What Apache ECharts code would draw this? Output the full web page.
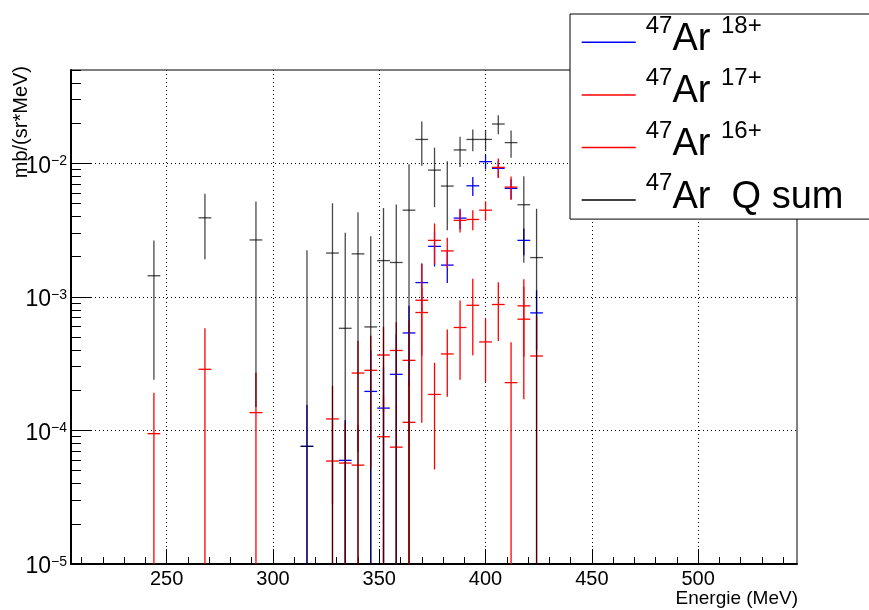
<!DOCTYPE html>
<html>
<head>
<meta charset="utf-8">
<script src="https://cdn.jsdelivr.net/npm/echarts@6/dist/echarts.min.js"></script>
<style>html,body{margin:0;padding:0;background:#fff}#c{width:869px;height:610px}</style>
</head>
<body>
<div id="c"></div>
<script>
// ---- data ----
const energy = [244,268,292,316,328,334,340,346,352,358,364,370,376,382,388,394,400,406,412,418,424];

const qsum    = [1.44e-3,3.91e-3,2.67e-3,7.6e-5,2.13e-3,5.82e-4,2.1e-3,5.96e-4,1.87e-3,1.81e-3,4.46e-3,1.51e-2,8.9e-3,6.76e-3,1.26e-2,1.51e-2,1.51e-2,1.97e-2,1.43e-2,4.9e-3,1.97e-3];
const qsumErr = [1.2e-3,2.0e-3,2.52e-3,2.16e-3,2.9e-3,2.44e-3,2.2e-3,2.25e-3,2.77e-3,3.1e-3,5.4e-3,5.5e-3,4.2e-3,3.6e-3,3.2e-3,2.8e-3,2.7e-3,3.2e-3,3.3e-3,3.1e-3,2.6e-3];

const ar18    = [null,null,null,7.6e-5,null,5.97e-5,null,1.96e-4,1.47e-4,2.63e-4,5.37e-4,1.28e-3,2.39e-3,1.73e-3,3.89e-3,6.79e-3,1.03e-2,9.18e-3,6.5e-3,2.65e-3,7.59e-4];
const ar18Err = [null,null,null,7.9e-5,null,6e-5,null,2e-4,1.5e-4,2.6e-4,3.2e-4,5e-4,7e-4,4.6e-4,6.8e-4,1.1e-3,1.3e-3,1.3e-3,1.1e-3,6e-4,3.6e-4];

const ar17    = [9.46e-5,2.87e-4,1.36e-4,null,1.22e-4,5.7e-5,2.69e-4,2.82e-4,3.67e-4,3.97e-4,3.35e-4,9.44e-4,2.65e-3,2.21e-3,3.74e-3,3.8e-3,4.46e-3,9.33e-3,6.64e-3,8.57e-4,3.61e-4];
const ar17Err = [9.7e-5,2.95e-4,1.35e-4,null,9.4e-5,5.7e-5,2.0e-4,2.3e-4,2.3e-4,2.5e-4,3.3e-4,8.3e-4,9e-4,5.6e-4,7e-4,6.5e-4,7.4e-4,1.55e-3,1.33e-3,5e-4,3.6e-4];

const ar16    = [null,null,null,null,5.9e-5,null,5.5e-5,null,8.97e-5,7.5e-5,1.15e-4,7.64e-4,1.86e-4,3.74e-4,5.9e-4,8.65e-4,4.6e-4,8.77e-4,2.28e-4,6.81e-4,null];
const ar16Err = [null,null,null,null,6e-5,null,5.5e-5,null,9e-5,7.5e-5,1.15e-4,4e-4,1.35e-4,1.95e-4,3.5e-4,5e-4,2.3e-4,4.1e-4,2.3e-4,5.1e-4,null];

const binHalfWidth = 3;
const xMin = 205, xMax = 546.5;
const yMin = 1e-5, yMax = 0.05;
const xTickLabels = [250,300,350,400,450,500];
const xMinorTicks = [];
for (let v = 210; v <= 540; v += 10) xMinorTicks.push(v);
const yTickLabels = [1e-5,1e-4,1e-3,1e-2];
const yMinorTicks = [];
for (let p = -5; p <= -2; p++) for (let m = 2; m <= 9; m++) { const v = m * Math.pow(10, p); if (v <= yMax) yMinorTicks.push(+v.toPrecision(3)); }

const FONT = '"Liberation Sans", Arial, Helvetica, sans-serif';

function makeSeries(name, vals, errs, color, opacity) {
  const data = [];
  energy.forEach((e, i) => { if (vals[i] != null) data.push([e, vals[i], errs[i]]); });
  return {
    name: name, type: 'custom', xAxisIndex: 0, yAxisIndex: 0,
    itemStyle: { color: color },
    encode: { x: 0, y: 1 },
    data: data,
    renderItem: function (params, api) {
      const x = api.value(0), v = api.value(1), er = api.value(2);
      const lo = Math.max(v - er, yMin);
      const hi = Math.min(v + er, yMax);
      const pc = api.coord([x, v]);
      const plo = api.coord([x, lo]);
      const phi = api.coord([x, hi]);
      const pl = api.coord([x - binHalfWidth, v]);
      const pr = api.coord([x + binHalfWidth, v]);
      const st = { stroke: color, lineWidth: 1.3, opacity: opacity };
      return { type: 'group', children: [
        { type: 'line', shape: { x1: pc[0], y1: plo[1], x2: pc[0], y2: phi[1] }, style: st },
        { type: 'line', shape: { x1: pl[0], y1: pc[1], x2: pr[0], y2: pc[1] }, style: st }
      ]};
    }
  };
}

const chart = echarts.init(document.getElementById('c'), null, { renderer: 'canvas' });
chart.setOption({
  animation: false,
  backgroundColor: '#fff',
  grid: { left: 71, right: 72, top: 70, bottom: 46, containLabel: false, outerBoundsMode: 'none',
          show: true, borderColor: '#000', borderWidth: 1, backgroundColor: '#fff' },
  xAxis: [
    { type: 'value', min: xMin, max: xMax, position: 'bottom',
      axisLine: { show: true, onZero: false, lineStyle: { color: '#000', width: 2 } },
      axisTick: { show: true, inside: true, length: 15, customValues: xTickLabels, lineStyle: { color: '#000', width: 1 } },
      axisLabel: { show: true, customValues: xTickLabels, fontSize: 20, fontFamily: FONT, color: '#000', margin: 5 },
      splitLine: { show: true, lineStyle: { type: [1, 3], color: '#000', width: 1 } }
    },
    { type: 'value', min: xMin, max: xMax, position: 'bottom', offset: 0,
      axisLine: { show: false },
      axisTick: { show: true, inside: true, length: 7, customValues: xMinorTicks, lineStyle: { color: '#000', width: 1 } },
      axisLabel: { show: false },
      splitLine: { show: false }
    }
  ],
  yAxis: [
    { type: 'log', logBase: 10, min: yMin, max: yMax, position: 'left',
      axisLine: { show: true, onZero: false, lineStyle: { color: '#000', width: 2 } },
      axisTick: { show: true, inside: true, length: 20, customValues: yTickLabels, lineStyle: { color: '#000', width: 1 } },
      axisLabel: { show: true, customValues: yTickLabels, margin: 4, color: '#000',
        formatter: function (v) {
          const p = Math.round(Math.log10(v));
          return '{b|10}{s|' + (p < 0 ? '\u2212' : '') + Math.abs(p) + '}';
        },
        rich: {
          b: { fontSize: 23, lineHeight: 23, fontFamily: FONT, color: '#000', padding: [6, 0, 0, 0] },
          s: { fontSize: 14, lineHeight: 14, fontFamily: FONT, color: '#000', padding: [0, 0, 4, 0] }
        }
      },
      splitLine: { show: true, lineStyle: { type: [1, 3], color: '#000', width: 1 } }
    },
    { type: 'log', logBase: 10, min: yMin, max: yMax, position: 'left', offset: 0,
      axisLine: { show: false },
      axisTick: { show: true, inside: true, length: 10, customValues: yMinorTicks, lineStyle: { color: '#000', width: 1 } },
      axisLabel: { show: false },
      splitLine: { show: false }
    }
  ],
  legend: {
    orient: 'vertical', left: 570, top: 14,
    data: ['18+', '17+', '16+', 'Q sum'],
    icon: 'rect', itemWidth: 54, itemHeight: 1.5, itemGap: 8.3,
    padding: [0, 70, 3, 11.7],
    backgroundColor: '#fff', borderColor: '#000', borderWidth: 1, borderRadius: 0,
    selectedMode: false,
    formatter: function (name) {
      if (name === 'Q sum') return '{sup|47}{main|Ar  Q sum}';
      return '{sup|47}{main|Ar }{sup2|' + name + '}';
    },
    textStyle: {
      color: '#000', fontFamily: FONT,
      rich: {
        sup: { fontSize: 24, lineHeight: 8, height: 7.4, verticalAlign: 'top', fontFamily: FONT, color: '#000', padding: [0, 0, 0, 5] },
        main: { fontSize: 38, lineHeight: 40, height: 34, verticalAlign: 'top', fontFamily: FONT, color: '#000' },
        sup2: { fontSize: 24, lineHeight: 8, height: 7.4, verticalAlign: 'top', fontFamily: FONT, color: '#000' }
      }
    }
  },
  graphic: [
    { type: 'text', x: 21, y: 66, rotation: Math.PI / 2,
      style: { text: 'mb/(sr*MeV)', font: '20px ' + FONT, fill: '#000',
               align: 'right', verticalAlign: 'middle', textAlign: 'right', textVerticalAlign: 'middle' } },
    { type: 'text', x: 798, y: 599,
      style: { text: 'Energie (MeV)', font: '19px ' + FONT, fill: '#000',
               align: 'right', verticalAlign: 'middle', textAlign: 'right', textVerticalAlign: 'middle' } }
  ],
  series: [
    makeSeries('18+', ar18, ar18Err, '#0000ff', 1),
    makeSeries('17+', ar17, ar17Err, '#ff0000', 1),
    makeSeries('16+', ar16, ar16Err, '#ff0000', 1),
    makeSeries('Q sum', qsum, qsumErr, '#000000', 0.72)
  ]
});
</script>
</body>
</html>
